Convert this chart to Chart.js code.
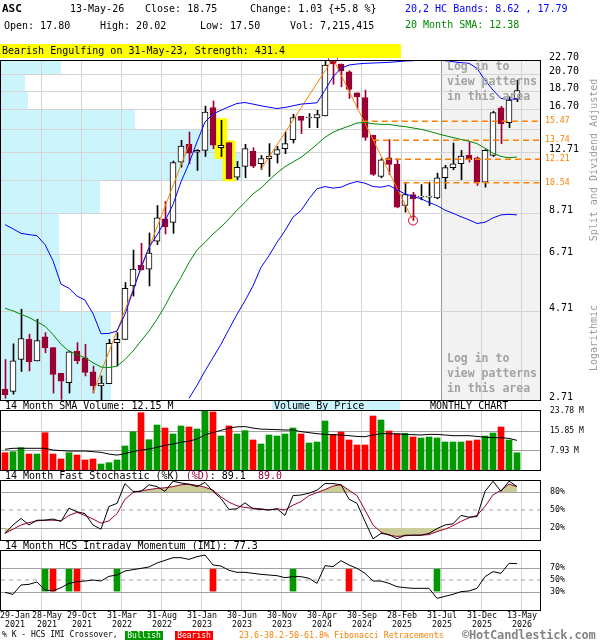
<!DOCTYPE html>
<html lang="en">
<head>
<meta charset="utf-8">
<title>ASC monthly candlestick chart</title>
<script src="https://cdn.jsdelivr.net/npm/chart.js"></script>
<style>
html,body{margin:0;padding:0;background:#fff;}
#wrap{position:relative;width:600px;height:640px;overflow:hidden;background:#fff;font-family:'DejaVu Sans Mono',monospace;color:#000;}
#wrap canvas{position:absolute;left:0;top:0;}
.t{position:absolute;white-space:pre;font-size:10px;line-height:12px;z-index:6;}
.frame{position:absolute;box-sizing:border-box;border:1px solid #000;z-index:5;}
.lock{position:absolute;white-space:pre;font-size:11.5px;line-height:15px;font-weight:bold;color:#a3a3a3;z-index:6;}
.vt{position:absolute;white-space:pre;font-size:10px;line-height:12px;color:#9a9a9a;transform:translate(-50%,-50%) rotate(-90deg);z-index:6;}
.date{position:absolute;white-space:pre;font-size:8.3px;line-height:8.6px;text-align:center;z-index:6;}
.fib{position:absolute;white-space:pre;font-size:8.2px;line-height:10px;color:#ff8000;z-index:6;}
</style>
</head>
<body>
<div id="wrap">
<canvas id="cBg" width="600" height="640"></canvas>
<canvas id="cPrice" width="600" height="640"></canvas>
<canvas id="cVol" width="600" height="640"></canvas>
<canvas id="cSto" width="600" height="640"></canvas>
<canvas id="cImi" width="600" height="640"></canvas>

<div class="t" style="left:2px;top:3px;font-weight:bold;font-size:11px;">ASC</div>
<div class="t" style="left:70px;top:3px;">13-May-26</div>
<div class="t" style="left:145px;top:3px;">Close: 18.75</div>
<div class="t" style="left:250px;top:3px;">Change: 1.03 {+5.8 %}</div>
<div class="t" style="left:4px;top:20px;">Open: 17.80</div>
<div class="t" style="left:100px;top:20px;">High: 20.02</div>
<div class="t" style="left:200px;top:20px;">Low: 17.50</div>
<div class="t" style="left:290px;top:20px;">Vol: 7,215,415</div>
<div class="t" style="left:405px;top:3px;color:#0000ff;">20,2 HC Bands: 8.62 , 17.79</div>
<div class="t" style="left:405px;top:19px;color:#008800;">20 Month SMA: 12.38</div>
<div class="t" style="left:0;top:44px;width:401px;height:14px;line-height:14px;background:#ffff00;padding-left:2px;box-sizing:border-box;">Bearish Engulfing on 31-May-23, Strength: 431.4</div>

<div class="frame" style="left:0;top:60px;width:541px;height:341px;"></div>
<div class="frame" style="left:0;top:410px;width:541px;height:61px;"></div>
<div class="frame" style="left:0;top:480px;width:541px;height:61px;"></div>
<div class="frame" style="left:0;top:550px;width:541px;height:61px;"></div>

<div class="lock" style="left:447px;top:59px;">Log in to
view patterns
in this area</div>
<div class="lock" style="left:447px;top:351px;">Log in to
view patterns
in this area</div>

<div class="vt" style="left:594px;top:160px;">Split and Dividend Adjusted</div>
<div class="vt" style="left:594px;top:338px;">Logarithmic</div>

<div class="t" style="left:5px;top:400px;">14 Month SMA Volume: 12.15 M</div>
<div class="t" style="left:272px;top:401px;width:128px;height:9px;background:#ccf4fc;z-index:4;"></div>
<div class="t" style="left:274px;top:400px;">Volume By Price</div>
<div class="t" style="left:430px;top:400px;">MONTHLY CHART</div>
<div class="t" style="left:5px;top:470px;">14 Month Fast Stochastic (%K) <span style="color:#990033">(%D)</span>: 89.1  <span style="color:#990033">89.0</span></div>
<div class="t" style="left:5px;top:540px;">14 Month HCS Intraday Momentum (IMI): 77.3</div>

<div class="t" style="left:2px;top:630px;font-size:8px;line-height:10px;">% K - HCS IMI Crossover,</div>
<div class="t" style="left:125px;top:631px;width:38px;height:9px;background:#009900;color:#fff;font-size:8px;line-height:9px;text-align:center;">Bullish</div>
<div class="t" style="left:175px;top:631px;width:38px;height:9px;background:#ff0000;color:#fff;font-size:8px;line-height:9px;text-align:center;">Bearish</div>
<div class="t" style="left:239px;top:630px;font-size:8.3px;line-height:10px;color:#ff8000;">23.6-38.2-50-61.8% Fibonacci Retracements</div>
<div class="t" style="left:462px;top:628px;font-size:12px;line-height:14px;color:#858585;font-weight:bold;letter-spacing:-0.2px;">©HotCandlestick.com</div>
</div>

<script>
// ---------- DATA (monthly, Jan-2021 .. May-2026) ----------
const open = [2.90, 2.86, 3.49, 3.96, 3.46, 4.02, 3.76, 3.20, 3.02, 3.68,
  3.53, 3.23, 2.96, 3.00, 3.88, 3.96, 5.53, 6.30, 6.14, 7.31,
  8.41, 8.23, 11.99, 13.40, 12.76, 12.90, 16.87, 13.12, 13.54, 10.91,
  11.67, 12.82, 11.87, 12.25, 12.58, 13.04, 13.80, 15.97, 15.80, 15.80,
  16.00, 22.70, 22.14, 21.09, 18.48, 17.96, 14.18, 10.96, 12.32, 11.82,
  9.14, 9.79, 9.63, 9.63, 9.59, 10.87, 11.58, 11.87, 12.50, 12.31,
  10.58, 12.50, 16.83, 15.35, 17.80];
const high = [3.49, 3.85, 4.78, 4.09, 4.49, 4.13, 3.76, 3.20, 3.68, 3.88,
  3.84, 3.35, 3.15, 3.96, 4.13, 5.65, 6.92, 7.22, 7.70, 9.14,
  9.37, 12.07, 13.74, 14.47, 12.96, 17.01, 17.58, 15.57, 13.54, 12.04,
  13.40, 13.12, 12.50, 13.46, 13.23, 14.47, 16.17, 15.97, 16.24, 16.58,
  22.60, 22.90, 22.14, 21.23, 18.48, 18.80, 14.18, 12.25, 13.80, 12.25,
  10.51, 9.93, 10.42, 10.58, 11.19, 11.75, 13.51, 12.90, 13.59, 12.39,
  12.96, 16.48, 16.99, 18.03, 20.02];
const low = [2.74, 2.81, 3.24, 3.25, 3.46, 3.64, 2.83, 2.72, 2.83, 3.40,
  3.15, 2.83, 2.69, 3.00, 3.35, 3.96, 5.19, 6.11, 5.53, 7.16,
  7.65, 7.68, 11.62, 11.87, 11.38, 12.42, 13.04, 12.42, 10.80, 10.75,
  10.87, 11.58, 11.45, 10.96, 11.92, 12.64, 13.51, 14.33, 14.87, 14.87,
  16.00, 19.50, 19.20, 17.85, 16.76, 13.74, 11.03, 10.87, 11.10, 9.01,
  8.77, 8.32, 9.47, 9.14, 9.53, 10.15, 11.43, 10.74, 11.99, 10.36,
  10.25, 12.42, 13.46, 14.87, 17.50];
const close = [2.80, 3.46, 3.98, 3.44, 3.93, 3.75, 3.18, 3.05, 3.66, 3.46,
  3.22, 2.96, 3.01, 3.86, 3.96, 5.45, 6.14, 6.11, 6.79, 8.46,
  8.01, 11.95, 13.26, 12.68, 12.90, 16.40, 13.32, 13.32, 10.80, 11.60,
  13.04, 11.69, 12.25, 12.45, 12.96, 13.46, 15.84, 15.57, 15.82, 16.14,
  22.00, 22.14, 21.23, 18.89, 18.03, 13.98, 11.10, 12.17, 11.82, 9.04,
  9.79, 9.53, 9.65, 9.66, 10.87, 11.58, 11.87, 12.45, 12.17, 10.58,
  12.90, 16.34, 15.25, 17.66, 18.75];

const bbUpper = [8.11, 7.90, 7.68, 7.62, 7.57, 7.16, 6.47, 5.59, 5.45, 5.19,
  5.06, 4.65, 4.10, 4.11, 4.17, 4.63, 5.36, 6.21, 7.04, 7.60,
  8.30, 9.20, 10.60, 11.90, 13.60, 15.40, 16.20, 16.58, 16.95, 17.30,
  17.40, 17.23, 17.05, 16.90, 16.76, 16.87, 17.05, 17.23, 17.30, 17.37,
  18.80, 20.44, 21.55, 22.00, 22.14, 22.23, 22.28, 22.32, 22.37, 22.46,
  22.56, 22.60, 22.70, 22.80, 22.84, 22.60, 22.46, 22.32, 22.23, 21.55,
  20.02, 18.80, 17.85, 17.72, 17.79];
const bbLower = [null, null, null, null, null, null, null, null, null, null,
  null, null, null, null, null, null, null, null, null, null,
  null, null, null, 2.74, 2.97, 3.25, 3.53, 3.84, 4.22, 4.63,
  5.04, 5.53, 6.21, 6.68, 7.26, 7.81, 8.50, 8.86, 9.53, 10.15,
  10.29, 10.19, 10.25, 10.47, 10.62, 10.51, 10.29, 10.25, 10.36, 10.08,
  9.83, 9.68, 9.53, 9.32, 9.14, 8.88, 8.71, 8.52, 8.36, 8.17,
  8.23, 8.46, 8.62, 8.65, 8.62];
const sma20 = [4.81, 4.73, 4.63, 4.54, 4.42, 4.30, 4.08, 3.84, 3.68, 3.60,
  3.53, 3.42, 3.33, 3.32, 3.35, 3.49, 3.68, 3.92, 4.17, 4.49,
  4.88, 5.36, 5.83, 6.40, 6.92, 7.26, 7.65, 7.99, 8.41, 8.88,
  9.32, 9.83, 10.20, 10.70, 11.20, 11.65, 12.00, 12.35, 12.85, 13.40,
  14.00, 14.45, 14.75, 15.02, 15.31, 15.37, 15.24, 15.18, 15.18, 15.05,
  14.97, 14.84, 14.72, 14.54, 14.33, 14.15, 13.98, 13.81, 13.66, 13.46,
  13.08, 12.68, 12.42, 12.32, 12.38];

// volume in millions of shares, bar colour u = up month, d = down month
const volume = [7.25, 7.65, 9.24, 6.74, 6.74, 15.18, 6.74, 4.76, 7.25, 6.34,
  4.36, 4.76, 2.77, 3.30, 4.36, 9.91, 15.58, 23.11, 12.41, 18.23,
  17.04, 14.66, 17.84, 17.44, 16.65, 24.50, 23.38, 13.87, 17.84, 14.66,
  15.98, 12.29, 10.70, 14.27, 13.87, 14.66, 17.04, 14.66, 11.10, 11.49,
  19.82, 14.53, 15.46, 12.29, 10.31, 10.31, 21.80, 20.21, 15.85, 14.80,
  14.93, 13.48, 13.08, 13.48, 13.08, 11.49, 11.49, 11.49, 11.89, 12.29,
  13.87, 15.06, 17.44, 12.29, 7.22];
const volDirection = ('duududddud' + 'dduuuuuduu' + 'duuduududu' + 'uduuuuuduu' +
  'uddddddudd' + 'uduuuuuudd' + 'uuduu').split('');
const volSma = [8.6, 9.0, 9.0, 9.0, 9.0, 9.0, 8.3, 8.1, 7.9, 7.9,
  7.9, 7.66, 7.4, 6.7, 6.3, 6.9, 7.7, 8.3, 8.7, 9.4,
  10.2, 10.7, 11.4, 11.8, 12.7, 14.3, 15.3, 16.1, 17.0, 17.5,
  17.6, 17.0, 16.6, 16.5, 16.4, 16.25, 16.25, 15.6, 15.2, 14.8,
  14.5, 14.4, 14.27, 14.0, 13.7, 13.6, 14.27, 14.8, 14.8, 14.7,
  14.5, 14.4, 14.27, 14.5, 14.5, 14.27, 14.0, 14.0, 14.0, 13.7,
  13.4, 13.2, 13.2, 12.9, 12.15];

const stochK = [11, 25, 36, 25, 33, 33, 35, 31, 53, 47,
  44, 25, 18, 56, 61, 94, 81, 81, 92, 89,
  81, 98, 95, 93, 89, 96, 81, 69, 51, 52,
  62, 52, 51, 50, 52, 41, 74, 75, 78, 83,
  94, 94, 92, 68, 61, 31, 2, 11, 9, 2,
  8, 8, 8, 11, 19, 25, 27, 41, 38, 39,
  81, 98, 81, 98, 89.1];
const stochD = [11, 18, 25, 29, 32, 33, 33, 32, 41, 46,
  41, 35, 28, 32, 44, 68, 79, 82, 84, 86,
  87, 89, 92, 93, 91, 88, 83, 72, 63, 57,
  54, 53, 52, 50, 52, 50, 58, 64, 74, 79,
  84, 90, 92, 83, 74, 50, 25, 13, 8, 6,
  7, 8, 8, 9, 14, 18, 24, 31, 37, 41,
  56, 75, 83, 93, 89.0];

const imi = [29.4, 26.1, 41.7, 42.8, 46.7, 33.3, 31.7, 37.2, 44.4, 47.2,
  48.3, 50.0, 48.3, 56.1, 58.3, 65.0, 67.2, 69.4, 71.7, 78.3,
  82.8, 87.2, 87.2, 84.4, 88.9, 91.7, 75.0, 73.3, 66.1, 62.8,
  62.8, 61.1, 59.4, 58.3, 57.2, 53.9, 55.6, 55.6, 52.8, 44.4,
  73.9, 72.2, 82.2, 75.0, 69.4, 61.1, 48.3, 48.3, 44.4, 38.9,
  37.2, 36.1, 36.1, 36.1, 19.4, 22.8, 26.1, 30.6, 31.7, 36.1,
  55.6, 63.9, 61.1, 77.8, 77.3];
const imiBullMonths = [5, 8, 14, 36, 54];
const imiBearMonths = [6, 9, 26, 43];
const imiMarkRange = [31.5, 68];

// pattern / annotation data
const patternMonths = [27, 28];
const patternLow = [12.25, 10.65];
const patternHigh = [15.75, 13.70];
const fibLevels = [15.47, 13.74, 12.21, 10.54];
const fibStartMonth = [44.6, 46.0, 47.5, 49.8];
const zigMonths1 = [11, 23], zigPrices1 = [2.83, 13.40];
const zigMonths2 = [32, 41, 51], zigPrices2 = [11.45, 22.90, 8.32];
const pivotMonths = [41, 51], pivotPrices = [22.90, 8.32];

// volume by price (relative volume per price band)
const vbpEdges = [2.69, 4.71, 6.71, 8.71, 10.71, 12.71, 14.70, 16.70, 18.70, 20.70, 22.70];
const vbpVolume = [110, 59, 58, 99, 242, 225, 134, 27, 24, 60];

// axes
const priceGrid = [2.71, 4.71, 6.71, 8.71, 10.71, 12.71, 14.70, 16.70, 18.70, 20.70, 22.70];
const priceHiddenLabels = [10.71, 14.70];
const monthLines = [4.5, 9.5, 14.5, 19.5, 24.5, 29.5, 34.5, 39.5, 44.5, 49.5, 54.5, 59.5, 64.5];
const lockedFrom = 54.5;
const dateTicks = [-0.5, 4.5, 9.5, 14.5, 19.5, 24.5, 29.5, 34.5, 39.5, 44.5, 49.5, 54.5, 59.5, 64.5];
const dateLabels = [['29-Jan','2021'],['28-May','2021'],['29-Oct','2021'],['31-Mar','2022'],['31-Aug','2022'],
  ['31-Jan','2023'],['30-Jun','2023'],['30-Nov','2023'],['30-Apr','2024'],['30-Sep','2024'],
  ['28-Feb','2025'],['31-Jul','2025'],['31-Dec','2025'],['13-May','2026']];
const volTicks = [7.93, 15.85, 23.78];
const stochTicks = [20, 50, 80];
const imiTicks = [30, 50, 70];

// ---------- CHARTS ----------
const FONT = "'DejaVu Sans Mono', monospace";
Chart.defaults.font.family = FONT;
const X_MIN = -0.5, X_MAX = 67;
const Y_MIN = 2.71, Y_MAX = 22.70;
const MAROON = '#990033', ORANGE = '#ff8000';
const idx = open.map((_, i) => i);
const xy = arr => arr.map((v, i) => ({x: i, y: v}));
const pairs = (xs, ys) => xs.map((x, k) => ({x: x, y: ys[k]}));
const up = idx.map(i => close[i] >= open[i]);

function monthAxis(shift, gridColor) {
  return {
    type: 'linear', min: X_MIN + shift, max: X_MAX + shift, offset: false, bounds: 'data',
    display: !!gridColor,
    afterBuildTicks: s => { s.ticks = monthLines.map(v => ({value: v + shift})); },
    afterFit: s => { s.height = 0; },
    grid: {display: !!gridColor, offset: false, drawTicks: false, lineWidth: 1,
      color: gridColor || 'rgba(0,0,0,0)'},
    border: {display: false},
    ticks: {display: false}
  };
}
function rightAxis(extra) {
  return Object.assign({
    position: 'right', bounds: 'data',
    afterFit: s => { s.width = 59; },
    border: {display: false},
  }, extra);
}
function baseOptions(pad, scales) {
  return {
    responsive: false, animation: false, events: [],
    layout: {padding: pad, autoPadding: false},
    plugins: {legend: {display: false}, tooltip: {enabled: false}},
    scales: scales
  };
}

// Background: volume-by-price profile and the locked (shaded) area
const vbpPoints = [{x: 0, y: vbpEdges[0]}];
vbpVolume.forEach((v, k) => { vbpPoints.push({x: v, y: vbpEdges[k]}); vbpPoints.push({x: v, y: vbpEdges[k + 1]}); });
vbpPoints.push({x: 0, y: vbpEdges[vbpEdges.length - 1]});
const shadePoints = [{x: lockedFrom, y: Y_MIN}, {x: lockedFrom, y: Y_MAX}, {x: X_MAX, y: Y_MAX}, {x: X_MAX, y: Y_MIN}];

new Chart(document.getElementById('cBg'), {
  type: 'line',
  data: {datasets: [
    {data: vbpPoints, xAxisID: 'xv', yAxisID: 'y', fill: 'shape', backgroundColor: '#ccf4fc', borderWidth: 0, pointRadius: 0, tension: 0},
    {data: shadePoints, xAxisID: 'x', yAxisID: 'y', fill: 'shape', backgroundColor: '#f2f2f2', borderWidth: 0, pointRadius: 0, tension: 0}
  ]},
  options: baseOptions({left: 1, right: 59, top: 60, bottom: 240}, {
    x: {type: 'linear', min: X_MIN, max: X_MAX, display: false, offset: false},
    xv: {type: 'linear', min: 0, max: 540, display: false, offset: false},
    y: {type: 'logarithmic', min: Y_MIN, max: Y_MAX, display: false}
  })
});

// Price chart
const lineDs = (data, color, extra) => Object.assign({type: 'line', data: data, borderColor: color, borderWidth: 1,
  pointRadius: 0, tension: 0, fill: false, xAxisID: 'x', yAxisID: 'y', order: 1}, extra || {});
const priceDatasets = [
  {type: 'bar', data: patternMonths.map((m, k) => ({x: m, y: [patternLow[k], patternHigh[k]]})),
    backgroundColor: '#ffff00', barThickness: 12, grouped: false, order: 9, xAxisID: 'x', yAxisID: 'y'},
  {type: 'bar', data: idx.map(i => ({x: i, y: [low[i], high[i]]})),
    backgroundColor: idx.map(i => up[i] ? '#000000' : MAROON), barThickness: 1, grouped: false, order: 8, xAxisID: 'xw', yAxisID: 'y'},
  {type: 'bar', data: idx.map(i => ({x: i, y: [open[i], close[i]]})),
    backgroundColor: idx.map(i => up[i] ? '#ffffff' : MAROON), borderColor: idx.map(i => up[i] ? '#000000' : MAROON),
    borderWidth: 1, borderSkipped: false, minBarLength: 1, barThickness: 6, grouped: false, order: 7, xAxisID: 'x', yAxisID: 'y'},
  lineDs(xy(sma20), '#008800'),
  lineDs(xy(bbUpper), '#0000ff'),
  lineDs(xy(bbLower), '#0000ff'),
  lineDs(pairs(zigMonths1, zigPrices1), ORANGE),
  lineDs(pairs(zigMonths2, zigPrices2), ORANGE),
  lineDs(pairs(pivotMonths, pivotPrices), '#cc0033', {showLine: false, pointRadius: 4.5, pointStyle: 'circle',
    pointBorderColor: '#cc0033', pointBackgroundColor: 'rgba(0,0,0,0)', pointBorderWidth: 1, clip: false, order: 0})
];
fibLevels.forEach((lv, k) => {
  priceDatasets.push(lineDs([{x: fibStartMonth[k], y: lv}, {x: X_MAX, y: lv}], ORANGE, {borderDash: [6, 4], borderWidth: 1.5, order: 2}));
});

const priceChart = new Chart(document.getElementById('cPrice'), {
  type: 'line',
  data: {datasets: priceDatasets},
  options: baseOptions({left: 1, right: 0, top: 60, bottom: 240}, {
    x: monthAxis(0, c => (c.tick && c.tick.value === lockedFrom) ? '#999999' : '#d4d4d4'),
    xw: Object.assign(monthAxis(-0.0625, null), {display: false}),
    y: rightAxis({
      type: 'logarithmic', min: Y_MIN, max: Y_MAX, beginAtZero: false,
      afterBuildTicks: s => { s.ticks = priceGrid.map(v => ({value: v})); },
      grid: {color: '#d4d4d4', drawTicks: false},
      ticks: {autoSkip: false, padding: 8, labelOffset: -3, color: '#000', font: {family: FONT, size: 10},
        callback: v => priceHiddenLabels.includes(v) ? '' : Number(v).toFixed(2)}
    })
  })
});

// Volume chart
new Chart(document.getElementById('cVol'), {
  type: 'line',
  data: {datasets: [
    {type: 'bar', data: xy(volume), backgroundColor: idx.map(i => volDirection[i] === 'u' ? '#009900' : '#ff0000'),
      barThickness: 6, grouped: false, order: 2, xAxisID: 'x', yAxisID: 'y'},
    lineDs(xy(volSma), '#000000')
  ]},
  options: baseOptions({left: 1, right: 0, top: 411, bottom: 169}, {
    x: monthAxis(0, '#d4d4d4'),
    y: rightAxis({
      type: 'linear', min: 0, max: 23.78, beginAtZero: true,
      afterBuildTicks: s => { s.ticks = volTicks.map(v => ({value: v})); },
      grid: {drawTicks: false, color: c => (c.tick && c.tick.value === 23.78) ? 'rgba(0,0,0,0)' : '#a0a0a0'},
      ticks: {autoSkip: false, padding: 9, labelOffset: 0, color: '#000', font: {family: FONT, size: 8},
        callback: v => Number(v).toFixed(2) + ' M'}
    })
  })
});

// Stochastic chart
const KHAKI = '#cccc99';
new Chart(document.getElementById('cSto'), {
  type: 'line',
  data: {datasets: [
    lineDs(xy(stochD), 'rgba(0,0,0,0)', {borderWidth: 0, fill: {target: {value: 80}, above: KHAKI, below: 'rgba(0,0,0,0)'}, order: 5}),
    lineDs(xy(stochD), 'rgba(0,0,0,0)', {borderWidth: 0, fill: {target: {value: 20}, above: 'rgba(0,0,0,0)', below: KHAKI}, order: 5}),
    lineDs([{x: X_MIN, y: 50}, {x: X_MAX, y: 50}], '#a0a0a0', {borderDash: [4, 4], order: 4}),
    lineDs(xy(stochD), MAROON, {order: 2}),
    lineDs(xy(stochK), '#000000', {order: 1})
  ]},
  options: baseOptions({left: 1, right: 0, top: 480, bottom: 100}, {
    x: monthAxis(0, '#d4d4d4'),
    y: rightAxis({
      type: 'linear', min: 0, max: 100,
      afterBuildTicks: s => { s.ticks = stochTicks.map(v => ({value: v})); },
      grid: {drawTicks: false, color: c => (c.tick && c.tick.value === 50) ? 'rgba(0,0,0,0)' : '#a0a0a0'},
      ticks: {autoSkip: false, padding: 9, color: '#000', font: {family: FONT, size: 8.3}, callback: v => v + '%'}
    })
  })
});

// IMI chart
const imiChart = new Chart(document.getElementById('cImi'), {
  type: 'line',
  data: {datasets: [
    lineDs([{x: X_MIN, y: 50}, {x: X_MAX, y: 50}], '#a0a0a0', {borderDash: [4, 4], order: 4}),
    {type: 'bar', data: imiBullMonths.map(m => ({x: m, y: imiMarkRange})), backgroundColor: '#009900',
      barThickness: 6, grouped: false, order: 3, xAxisID: 'x', yAxisID: 'y'},
    {type: 'bar', data: imiBearMonths.map(m => ({x: m, y: imiMarkRange})), backgroundColor: '#ff0000',
      barThickness: 6, grouped: false, order: 3, xAxisID: 'x', yAxisID: 'y'},
    lineDs(xy(imi), '#000000', {order: 1})
  ]},
  options: baseOptions({left: 1, right: 0, top: 550, bottom: 30}, {
    x: monthAxis(0, '#d4d4d4'),
    y: rightAxis({
      type: 'linear', min: 0, max: 100,
      afterBuildTicks: s => { s.ticks = imiTicks.map(v => ({value: v})); },
      grid: {drawTicks: false, color: c => (c.tick && c.tick.value === 50) ? 'rgba(0,0,0,0)' : '#a0a0a0'},
      ticks: {autoSkip: false, padding: 9, color: '#000', font: {family: FONT, size: 8.3}, callback: v => v + '%'}
    })
  })
});

// ---------- text bound to the chart scales ----------
const wrap = document.getElementById('wrap');
function addText(cls, txt, left, top) {
  const d = document.createElement('div');
  d.className = cls; d.textContent = txt;
  d.style.left = left + 'px'; d.style.top = top + 'px';
  wrap.appendChild(d);
  return d;
}
const ys = priceChart.scales.y;
fibLevels.forEach(lv => { addText('fib', lv.toFixed(2), 545, ys.getPixelForValue(lv) - 6); });

const xs = imiChart.scales.x;
let prevRight = -10;
dateTicks.forEach((v, k) => {
  const d = addText('date', dateLabels[k].join('\n'), 0, 611.4);
  const w = d.offsetWidth;
  const c = xs.getPixelForValue(v) + 1;
  let left = Math.round(c - w / 2);
  if (left < prevRight + 2) left = prevRight + 2;
  if (left < 0) left = 0;
  d.style.left = left + 'px';
  prevRight = left + w;
});
</script>
</body>
</html>
